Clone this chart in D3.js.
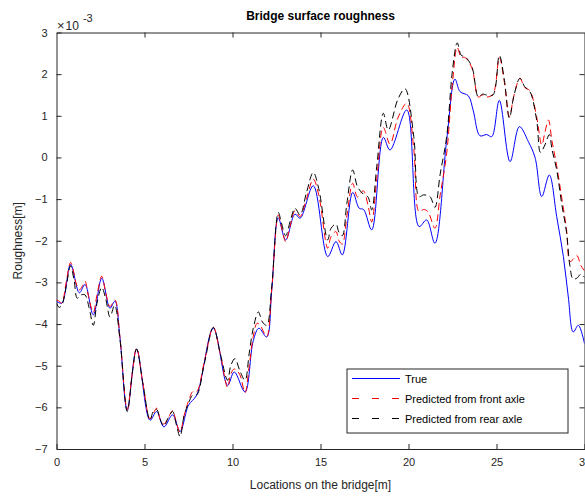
<!DOCTYPE html>
<html>
<head>
<meta charset="utf-8">
<script src="https://cdn.jsdelivr.net/npm/d3@7"></script>
<style>
body{margin:0;background:#fff;}
text{font-family:"Liberation Sans",Arial,Helvetica,sans-serif;}
</style>
</head>
<body>
<svg id="chart" width="585" height="499"></svg>
<script>
// locations [m] and roughness [x1e-3 m]
var trueX = [0,0.3,0.8,1.3,1.62,2.09,2.57,3.04,3.32,3.6,4.02,4.55,5.31,5.69,6.1,6.6,7.02,7.5,7.97,8.91,9.72,10.1,10.71,11.18,11.5,11.94,12.23,12.6,13.02,13.55,13.84,14.59,15.41,15.88,16.24,16.83,17.2,17.45,17.91,18.57,18.95,19.9,20.6,21.03,21.5,22.17,22.64,22.93,23.4,23.68,24.06,24.44,24.73,25.16,25.77,26.3,26.81,27.19,27.57,28.0,28.42,28.8,29.08,29.36,29.65,30];
var trueY = [-3.45,-3.5,-2.57,-3.25,-3.05,-3.78,-2.9,-3.62,-3.45,-4.3,-6.07,-4.6,-6.31,-6.1,-6.47,-6.18,-6.58,-5.95,-5.7,-4.1,-5.47,-5.15,-5.63,-4.4,-4.1,-4.31,-3.19,-1.45,-1.98,-1.36,-1.46,-0.68,-2.38,-2.02,-2.34,-0.84,-1.22,-1.25,-1.74,0.48,0.18,1.14,-1.66,-1.5,-2.06,0.42,1.88,1.58,1.48,1.12,0.52,0.55,0.5,1.37,-0.1,0.74,0.38,0.0,-0.94,-0.42,-1.42,-2.38,-3.35,-4.19,-4.03,-4.47];

var frontX = [0,0.15,0.3,0.55,0.8,0.95,1.1,1.3,1.45,1.62,1.8,2.09,2.3,2.57,2.8,3.04,3.32,3.6,4.02,4.3,4.55,4.9,5.31,5.5,5.69,5.9,6.1,6.35,6.6,6.8,7.02,7.25,7.5,7.75,7.97,8.4,8.91,9.3,9.72,9.9,10.1,10.4,10.71,10.95,11.18,11.4,11.6,11.94,12.23,12.6,12.8,13.02,13.3,13.55,13.84,14.2,14.59,14.9,15.41,15.6,15.88,16.05,16.24,16.5,16.83,17.1,17.43,17.7,17.91,18.2,18.57,18.95,19.4,19.9,20.3,20.6,20.85,21.1,21.5,21.8,22.17,22.5,22.77,23.0,23.21,23.6,23.97,24.2,24.44,24.8,25.16,25.45,25.73,26.0,26.33,26.6,26.9,27.28,27.57,27.75,27.95,28.15,28.42,28.7,28.98,29.17,29.35,29.56,29.8,30];
var frontY = [-3.42,-3.45,-3.5,-3.0,-2.52,-2.7,-3.0,-3.18,-3.1,-2.97,-3.3,-3.72,-3.3,-2.85,-3.25,-3.58,-3.42,-4.3,-6.05,-5.2,-4.58,-5.4,-6.28,-6.15,-6.02,-6.3,-6.4,-6.25,-6.08,-6.35,-6.6,-6.2,-5.85,-5.62,-5.62,-4.9,-4.08,-4.7,-5.52,-5.2,-5.08,-5.2,-5.65,-5.0,-4.3,-3.98,-4.05,-4.3,-3.15,-1.38,-1.7,-2.02,-1.6,-1.28,-1.42,-1.0,-0.52,-0.9,-2.18,-1.9,-1.78,-2.0,-2.08,-1.4,-0.62,-0.95,-0.8,-1.15,-1.55,-0.5,0.72,0.32,0.95,1.3,0.2,-1.3,-1.25,-1.3,-1.7,-0.9,0.1,1.8,2.64,2.4,2.4,2.15,1.45,1.5,1.45,1.52,2.4,1.8,0.98,1.5,1.9,1.68,1.6,0.98,0.3,0.6,0.9,0.4,-0.2,-0.95,-1.74,-2.5,-2.45,-2.35,-2.6,-2.72];

var rearX = [0,0.15,0.3,0.55,0.8,1.0,1.18,1.4,1.62,1.85,2.09,2.3,2.57,2.8,3.04,3.3,3.6,4.02,4.3,4.55,4.9,5.31,5.5,5.69,5.9,6.1,6.35,6.6,6.8,7.02,7.25,7.5,7.75,7.97,8.4,8.91,9.3,9.72,9.9,10.14,10.4,10.71,10.95,11.18,11.47,11.7,11.94,12.23,12.6,12.8,13.02,13.3,13.55,13.84,14.2,14.59,14.9,15.41,15.6,15.88,16.05,16.24,16.5,16.83,17.1,17.43,17.7,17.91,18.2,18.57,18.85,19.4,19.8,20.3,20.6,20.85,21.22,21.5,21.8,22.17,22.5,22.77,23.0,23.21,23.6,23.97,24.2,24.44,24.8,25.16,25.45,25.73,26.0,26.33,26.6,26.9,27.28,27.5,27.75,28.0,28.15,28.42,28.7,28.98,29.17,29.35,29.56,29.8,30];
var rearY = [-3.5,-3.6,-3.55,-3.1,-2.6,-2.95,-3.38,-3.3,-3.3,-3.6,-4.03,-3.5,-3.12,-3.4,-3.83,-3.55,-4.35,-6.1,-5.2,-4.6,-5.4,-6.3,-6.1,-6.05,-6.3,-6.45,-6.25,-6.1,-6.4,-6.7,-6.2,-5.9,-5.7,-5.7,-4.95,-4.08,-4.7,-5.35,-5.0,-4.83,-5.1,-5.35,-4.7,-4.1,-3.71,-3.95,-4.03,-3.1,-1.32,-1.6,-1.88,-1.5,-1.22,-1.38,-0.85,-0.36,-0.75,-1.98,-1.7,-1.6,-1.8,-1.88,-1.1,-0.3,-0.7,-0.88,-0.95,-1.26,-0.2,1.06,0.66,1.4,1.65,0.5,-0.94,-0.9,-0.94,-1.2,-0.4,0.5,2.1,2.75,2.45,2.42,2.18,1.45,1.52,1.5,1.5,2.45,1.85,0.95,1.5,1.9,1.7,1.58,0.9,0.12,0.3,0.55,0.2,-0.3,-1.1,-1.8,-2.6,-2.92,-2.9,-2.8,-2.88];

var xTicks = [0,5,10,15,20,25,30];
var yTicks = [-7,-6,-5,-4,-3,-2,-1,0,1,2,3];
var legendLabels = ["True","Predicted from front axle","Predicted from rear axle"];

var margin = {top: 32.5, right: 0.5, bottom: 50, left: 56.5},
    width = 528,
    height = 416.5;

var svg = d3.select("#chart");
var g = svg.append("g")
    .attr("transform", "translate(" + margin.left + "," + margin.top + ")");

var x = d3.scaleLinear().domain([0,30]).range([0,width]);
var y = d3.scaleLinear().domain([-7,3]).range([height,0]);

svg.append("defs").append("clipPath").attr("id","clip")
    .append("rect").attr("width", width).attr("height", height);

var axisColor = "#262626";

// axes with inward ticks, box on
var xb = g.append("g").attr("transform","translate(0," + height + ")")
    .call(d3.axisBottom(x).tickValues(xTicks).tickSizeInner(-5).tickSizeOuter(0).tickPadding(9));
var xt = g.append("g")
    .call(d3.axisTop(x).tickValues(xTicks).tickSizeInner(-5).tickSizeOuter(0).tickFormat(""));
var yl = g.append("g")
    .call(d3.axisLeft(y).tickValues(yTicks).tickSizeInner(-5).tickSizeOuter(0).tickPadding(9));
var yr = g.append("g").attr("transform","translate(" + width + ",0)")
    .call(d3.axisRight(y).tickValues(yTicks).tickSizeInner(-5).tickSizeOuter(0).tickFormat(""));

[xb,xt,yl,yr].forEach(function(a){
    a.select(".domain").attr("stroke", axisColor).attr("stroke-width", 1);
    a.selectAll(".tick line").attr("stroke", axisColor);
    a.selectAll(".tick text").attr("fill", axisColor)
        .style("font-family","Liberation Sans, Arial, sans-serif").style("font-size","11px");
});
xt.selectAll(".tick").filter(function(d){ return d==0 || d==30; }).select("line").remove();
yr.selectAll(".tick").filter(function(d){ return d==-7 || d==3; }).select("line").remove();

var line = function(xs, ys){
    return d3.line()
        .x(function(d,i){ return x(xs[i]); })
        .y(function(d,i){ return y(ys[i]); })
        .curve(d3.curveCatmullRom.alpha(0.5))(ys);
};

var plot = g.append("g").attr("clip-path","url(#clip)");
plot.append("path").attr("d", line(trueX, trueY))
    .attr("fill","none").attr("stroke","#0000ff").attr("stroke-width",1);
plot.append("path").attr("d", line(frontX, frontY))
    .attr("fill","none").attr("stroke","#ff0000").attr("stroke-width",1)
    .attr("stroke-dasharray","7,4");
plot.append("path").attr("d", line(rearX, rearY))
    .attr("fill","none").attr("stroke","#000000").attr("stroke-width",1)
    .attr("stroke-dasharray","7,4");

// exponent label
var ex = svg.append("text").attr("x", 57).attr("y", 30)
    .attr("fill", axisColor).style("font-size","13px");
ex.append("tspan").text("\u00d7");
ex.append("tspan").attr("dx", 1).style("font-size","12px").text("10");
ex.append("tspan").attr("dx", 4).attr("dy", -8).style("font-size","11px").text("-3");

// title and labels
svg.append("text").attr("x", margin.left + width/2).attr("y", 20)
    .attr("text-anchor","middle").attr("fill","#000")
    .style("font-size","12px").style("font-weight","bold")
    .text("Bridge surface roughness");
svg.append("text").attr("x", margin.left + width/2).attr("y", 489)
    .attr("text-anchor","middle").attr("fill", axisColor)
    .style("font-size","12px").text("Locations on the bridge[m]");
svg.append("text").attr("transform","translate(22," + (margin.top + height/2) + ") rotate(-90)")
    .attr("text-anchor","middle").attr("fill", axisColor)
    .style("font-size","12px").text("Roughness[m]");

// legend
var lg = svg.append("g").attr("transform","translate(347,369)");
lg.append("rect").attr("width",221).attr("height",64)
    .attr("fill","#fff").attr("stroke", axisColor).attr("stroke-width",1);
var colors = ["#0000ff","#ff0000","#000000"];
var dashes = [null,"7,13","7,13"];
legendLabels.forEach(function(t,i){
    var yy = 9.5 + i*20;
    lg.append("line").attr("x1",5).attr("x2",53).attr("y1",yy).attr("y2",yy)
        .attr("stroke",colors[i]).attr("stroke-width",1)
        .attr("stroke-dasharray",dashes[i]);
    lg.append("text").attr("x",58).attr("y",yy+4)
        .attr("fill","#000").style("font-size","11px").text(t);
});
</script>
</body>
</html>
